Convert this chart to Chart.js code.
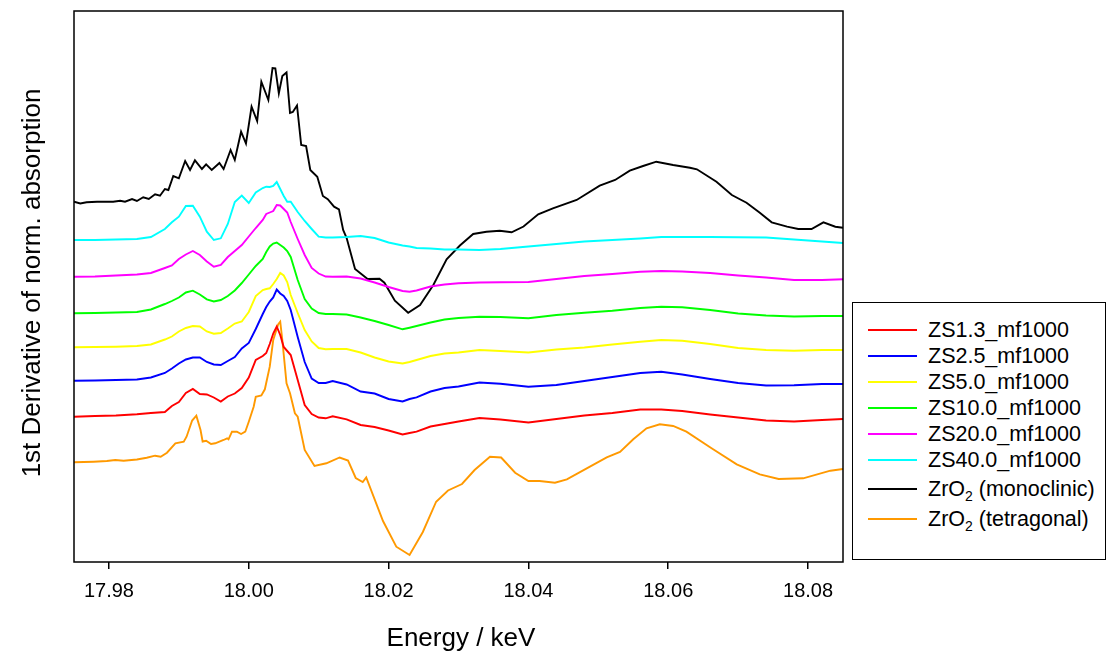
<!DOCTYPE html>
<html>
<head>
<meta charset="utf-8">
<script src="https://cdn.jsdelivr.net/npm/chart.js@4.4.1/dist/chart.umd.min.js"></script>
<style>
  body { margin: 0; background: #fff; font-family: 'Liberation Sans', Arial, sans-serif; }
  #wrap { position: relative; width: 1107px; height: 654px; overflow: hidden; }
  #xTitle { position: absolute; left: 0; width: 922px; top: 622px; text-align: center; font-size: 26px; line-height: 30px; color: #000; }
  #yTitle { position: absolute; left: -169px; top: 268px; width: 400px; height: 30px; line-height: 30px;
            text-align: center; font-size: 26px; color: #000; transform: rotate(-90deg); white-space: nowrap; }
  #legend { position: absolute; left: 852px; top: 302px; width: 254px; height: 258px; box-sizing: border-box;
            border: 1px solid #000; padding-top: 14px; background: #fff; }
  .row { display: flex; align-items: center; height: 26px; font-size: 21.5px; color: #000; white-space: nowrap; }
  .row .swatch { margin-left: 15px; width: 49px; height: 0; border-top: 2px solid; }
  .row .txt { margin-left: 11px; }
  .row sub { font-size: 65%; line-height: 0; vertical-align: -0.35em; }
</style>
</head>
<body>
<div id="wrap">
  <canvas id="chart" width="1107" height="654"></canvas>
  <div id="yTitle">1st Derivative of norm. absorption</div>
  <div id="xTitle">Energy / keV</div>
  <div id="legend"></div>
</div>
<script>
// x range and ticks (keV)
const xMin = 17.975;
const xMax = 18.085;
const xTicks = [17.98, 18.00, 18.02, 18.04, 18.06, 18.08];
const yMax = 5.51;

// shared energy grid for the ZS samples
const energy = [17.975, 17.978, 17.981, 17.984, 17.986, 17.988, 17.989, 17.990, 17.991, 17.992,
  17.993, 17.994, 17.995, 17.996, 17.997, 17.998, 17.999, 18.000, 18.001, 18.002,
  18.0025, 18.003, 18.0035, 18.004, 18.0045, 18.005, 18.0055, 18.006, 18.007, 18.008,
  18.009, 18.010, 18.011, 18.012, 18.014, 18.016, 18.018, 18.020, 18.022, 18.023,
  18.024, 18.026, 18.028, 18.030, 18.033, 18.036, 18.040, 18.044, 18.048, 18.052,
  18.056, 18.059, 18.062, 18.066, 18.070, 18.074, 18.078, 18.082, 18.085];

// offset derivative curves (arbitrary units)
const zs13 = [1.453, 1.46, 1.465, 1.477, 1.49, 1.50, 1.56, 1.60, 1.69, 1.73,
  1.68, 1.675, 1.645, 1.605, 1.655, 1.685, 1.74, 1.845, 2.02, 2.06,
  2.09, 2.18, 2.285, 2.355, 2.27, 2.15, 2.11, 2.07, 1.82, 1.57,
  1.48, 1.445, 1.437, 1.457, 1.427, 1.37, 1.35, 1.315, 1.275, 1.29,
  1.303, 1.355, 1.38, 1.405, 1.44, 1.425, 1.395, 1.43, 1.465, 1.49,
  1.525, 1.525, 1.51, 1.475, 1.445, 1.415, 1.405, 1.42, 1.43];
const zs25 = [1.813, 1.815, 1.82, 1.825, 1.845, 1.89, 1.935, 1.985, 2.025, 2.045,
  2.045, 2.00, 1.975, 1.97, 2.01, 2.05, 2.135, 2.19, 2.33, 2.48,
  2.55, 2.605, 2.645, 2.725, 2.685, 2.66, 2.61, 2.52, 2.25, 2.00,
  1.835, 1.79, 1.79, 1.81, 1.775, 1.705, 1.685, 1.63, 1.605, 1.63,
  1.647, 1.705, 1.74, 1.755, 1.795, 1.782, 1.753, 1.77, 1.81, 1.85,
  1.89, 1.903, 1.875, 1.83, 1.79, 1.765, 1.768, 1.78, 1.78];
const zs50 = [2.147, 2.15, 2.153, 2.16, 2.175, 2.225, 2.255, 2.305, 2.34, 2.36,
  2.355, 2.305, 2.283, 2.29, 2.335, 2.385, 2.405, 2.50, 2.66, 2.72,
  2.73, 2.737, 2.78, 2.83, 2.89, 2.865, 2.80, 2.67, 2.49, 2.32,
  2.205, 2.14, 2.127, 2.13, 2.13, 2.095, 2.045, 2.005, 1.985, 2.00,
  2.02, 2.06, 2.085, 2.095, 2.12, 2.11, 2.095, 2.125, 2.145, 2.175,
  2.203, 2.22, 2.213, 2.18, 2.14, 2.12, 2.113, 2.12, 2.12];
const zs100 = [2.487, 2.49, 2.495, 2.50, 2.525, 2.58, 2.61, 2.645, 2.695, 2.713,
  2.675, 2.627, 2.605, 2.62, 2.66, 2.715, 2.79, 2.875, 2.96, 3.03,
  3.10, 3.155, 3.185, 3.195, 3.17, 3.145, 3.11, 3.05, 2.82, 2.63,
  2.535, 2.49, 2.48, 2.48, 2.475, 2.445, 2.41, 2.37, 2.327, 2.343,
  2.36, 2.395, 2.425, 2.44, 2.453, 2.45, 2.437, 2.47, 2.493, 2.513,
  2.54, 2.553, 2.547, 2.52, 2.485, 2.465, 2.455, 2.46, 2.46];
const zs200 = [2.853, 2.855, 2.865, 2.875, 2.89, 2.94, 2.965, 3.03, 3.075, 3.11,
  3.07, 3.005, 2.953, 2.97, 3.05, 3.11, 3.17, 3.255, 3.34, 3.42,
  3.48, 3.495, 3.51, 3.57, 3.565, 3.53, 3.495, 3.40, 3.23, 3.07,
  2.94, 2.885, 2.855, 2.853, 2.855, 2.835, 2.795, 2.75, 2.71, 2.703,
  2.715, 2.755, 2.775, 2.787, 2.795, 2.797, 2.80, 2.83, 2.86, 2.88,
  2.903, 2.91, 2.905, 2.89, 2.865, 2.845, 2.82, 2.82, 2.827];
const zs400 = [3.22, 3.22, 3.225, 3.23, 3.25, 3.33, 3.397, 3.453, 3.56, 3.563,
  3.453, 3.303, 3.22, 3.237, 3.38, 3.60, 3.665, 3.59, 3.695, 3.74,
  3.753, 3.75, 3.76, 3.80, 3.73, 3.66, 3.603, 3.603, 3.50, 3.41,
  3.33, 3.253, 3.245, 3.245, 3.25, 3.26, 3.24, 3.195, 3.165, 3.155,
  3.14, 3.135, 3.125, 3.125, 3.12, 3.13, 3.155, 3.18, 3.205, 3.22,
  3.235, 3.25, 3.25, 3.25, 3.247, 3.245, 3.225, 3.205, 3.19];

// reference ZrO2 (monoclinic)
const monoE = [17.9750, 17.9759, 17.9768, 17.9783, 17.9797, 17.9806, 17.9816, 17.9823, 17.9833, 17.9840,
  17.9849, 17.9857, 17.9866, 17.9873, 17.9880, 17.9885, 17.9892, 17.9900, 17.9909, 17.9916,
  17.9923, 17.9933, 17.9939, 17.9947, 17.9958, 17.9964, 17.9974, 17.9980, 17.9989, 17.9996,
  18.0004, 18.0012, 18.0018, 18.0028, 18.0034, 18.0038, 18.0043, 18.0048, 18.0054, 18.0059,
  18.0063, 18.0069, 18.0075, 18.0082, 18.0088, 18.0098, 18.0106, 18.0113, 18.0122, 18.0129,
  18.0135, 18.0140, 18.0152, 18.0170, 18.0187, 18.0194, 18.0209, 18.0228, 18.0245, 18.0264,
  18.0283, 18.0302, 18.0321, 18.0340, 18.0359, 18.0376, 18.0393, 18.0414, 18.0435, 18.0469,
  18.0502, 18.0524, 18.0545, 18.0564, 18.0583, 18.0607, 18.0631, 18.0641, 18.0669, 18.0691,
  18.0712, 18.0731, 18.0748, 18.0770, 18.0786, 18.0805, 18.0822, 18.0839, 18.0850];
const monoY = [3.603, 3.585, 3.597, 3.603, 3.603, 3.603, 3.613, 3.603, 3.63, 3.61,
  3.647, 3.63, 3.677, 3.663, 3.73, 3.72, 3.86, 3.837, 4.01, 3.92,
  4.017, 3.93, 3.977, 3.92, 3.99, 3.93, 4.12, 4.02, 4.303, 4.185,
  4.553, 4.41, 4.803, 4.62, 4.94, 4.937, 4.687, 4.86, 4.895, 4.49,
  4.50, 4.565, 4.17, 4.16, 3.92, 3.853, 3.66, 3.628, 3.553, 3.527,
  3.32, 3.24, 2.93, 2.83, 2.833, 2.793, 2.613, 2.493, 2.57, 2.77,
  3.027, 3.165, 3.28, 3.303, 3.313, 3.297, 3.355, 3.477, 3.537, 3.62,
  3.763, 3.82, 3.913, 3.96, 4.003, 3.97, 3.943, 3.927, 3.803, 3.67,
  3.593, 3.493, 3.397, 3.353, 3.33, 3.33, 3.397, 3.353, 3.343];

// reference ZrO2 (tetragonal)
const tetraE = [17.9750, 17.9778, 17.9797, 17.9809, 17.9821, 17.9840, 17.9854, 17.9866, 17.9874, 17.9883,
  17.9895, 17.9907, 17.9911, 17.9919, 17.9925, 17.9931, 17.9934, 17.9939, 17.9946, 17.9952,
  17.9964, 17.9969, 17.9971, 17.9976, 17.9983, 17.9989, 17.9995, 18.0000, 18.0007, 18.0010,
  18.0018, 18.0023, 18.0030, 18.0035, 18.0042, 18.0045, 18.0048, 18.0054, 18.0059, 18.0066,
  18.0070, 18.0080, 18.0094, 18.0111, 18.0130, 18.0142, 18.0153, 18.0163, 18.0168, 18.0192,
  18.0211, 18.0230, 18.0249, 18.0268, 18.0285, 18.0305, 18.0323, 18.0345, 18.0361, 18.0381,
  18.0400, 18.0416, 18.0438, 18.0455, 18.0488, 18.0512, 18.0531, 18.0550, 18.0569, 18.0588,
  18.0607, 18.0626, 18.0662, 18.0698, 18.0731, 18.0758, 18.0793, 18.0832, 18.0850];
const tetraY = [0.997, 1.003, 1.01, 1.02, 1.013, 1.025, 1.043, 1.063, 1.053, 1.093,
  1.187, 1.203, 1.253, 1.415, 1.463, 1.32, 1.205, 1.213, 1.18, 1.187,
  1.22, 1.237, 1.227, 1.303, 1.303, 1.28, 1.303, 1.403, 1.553, 1.653,
  1.665, 1.727, 1.953, 2.22, 2.375, 2.403, 2.22, 1.787, 1.687, 1.487,
  1.453, 1.12, 0.96, 0.987, 1.045, 1.015, 0.84, 0.80, 0.845, 0.41,
  0.153, 0.07, 0.30, 0.603, 0.715, 0.78, 0.92, 1.053, 1.045, 0.893,
  0.81, 0.81, 0.793, 0.827, 0.953, 1.047, 1.10, 1.227, 1.337, 1.377,
  1.36, 1.303, 1.137, 0.977, 0.877, 0.83, 0.837, 0.913, 0.93];

const seriesNames = ['ZS1.3_mf1000', 'ZS2.5_mf1000', 'ZS5.0_mf1000', 'ZS10.0_mf1000',
  'ZS20.0_mf1000', 'ZS40.0_mf1000', 'ZrO2 (monoclinic)', 'ZrO2 (tetragonal)'];
const seriesColors = ['#ff0000', '#0000ff', '#ffff00', '#00ff00', '#ff00ff', '#00ffff', '#000000', '#ff9900'];

const sampleSeries = [zs13, zs25, zs50, zs100, zs200, zs400];

function toPoints(xs, ys) {
  return xs.map((x, i) => ({ x: x, y: ys[i] }));
}

const datasets = [];
sampleSeries.forEach((vals, i) => {
  datasets.push({ label: seriesNames[i], data: toPoints(energy, vals), borderColor: seriesColors[i] });
});
datasets.push({ label: seriesNames[6], data: toPoints(monoE, monoY), borderColor: seriesColors[6] });
datasets.push({ label: seriesNames[7], data: toPoints(tetraE, tetraY), borderColor: seriesColors[7] });
datasets.forEach(ds => {
  ds.borderWidth = 1.9;
  ds.pointRadius = 0;
  ds.tension = 0;
  ds.fill = false;
});

// box around the plot area
const framePlugin = {
  id: 'frame',
  afterDraw(chart) {
    const { ctx, chartArea: a } = chart;
    ctx.save();
    ctx.strokeStyle = '#000';
    ctx.lineWidth = 1.5;
    ctx.strokeRect(a.left, a.top, a.right - a.left, a.bottom - a.top);
    ctx.restore();
  }
};

Chart.defaults.font.family = "'Liberation Sans', Arial, sans-serif";

new Chart(document.getElementById('chart'), {
  type: 'line',
  data: { datasets: datasets },
  options: {
    responsive: false,
    animation: false,
    devicePixelRatio: 1,
    layout: { padding: { left: 74, top: 11, right: 264, bottom: 0 } },
    plugins: { legend: { display: false }, tooltip: { enabled: false } },
    scales: {
      x: {
        type: 'linear',
        min: xMin,
        max: xMax,
        afterBuildTicks: axis => { axis.ticks = xTicks.map(v => ({ value: v })); },
        afterFit: scale => { scale.height = 92; },
        border: { display: false },
        grid: { display: true, drawOnChartArea: false, drawTicks: true, tickLength: 7, color: '#000', lineWidth: 1.5 },
        ticks: { color: '#000', font: { size: 20 }, padding: 10, autoSkip: false, maxRotation: 0,
                 callback: v => Number(v).toFixed(2) }
      },
      y: { display: false, min: 0, max: yMax }
    }
  },
  plugins: [framePlugin]
});

// legend (HTML so the subscript stays real text)
const legend = document.getElementById('legend');
seriesNames.forEach((name, i) => {
  const row = document.createElement('div');
  row.className = 'row';
  if (i === 6) row.style.marginTop = '3px';
  if (i === 7) row.style.marginTop = '4px';
  const sw = document.createElement('span');
  sw.className = 'swatch';
  sw.style.borderTopColor = seriesColors[i];
  const txt = document.createElement('span');
  txt.className = 'txt';
  txt.innerHTML = name.replace('ZrO2', 'ZrO<sub>2</sub>');
  row.appendChild(sw);
  row.appendChild(txt);
  legend.appendChild(row);
});
</script>
</body>
</html>
